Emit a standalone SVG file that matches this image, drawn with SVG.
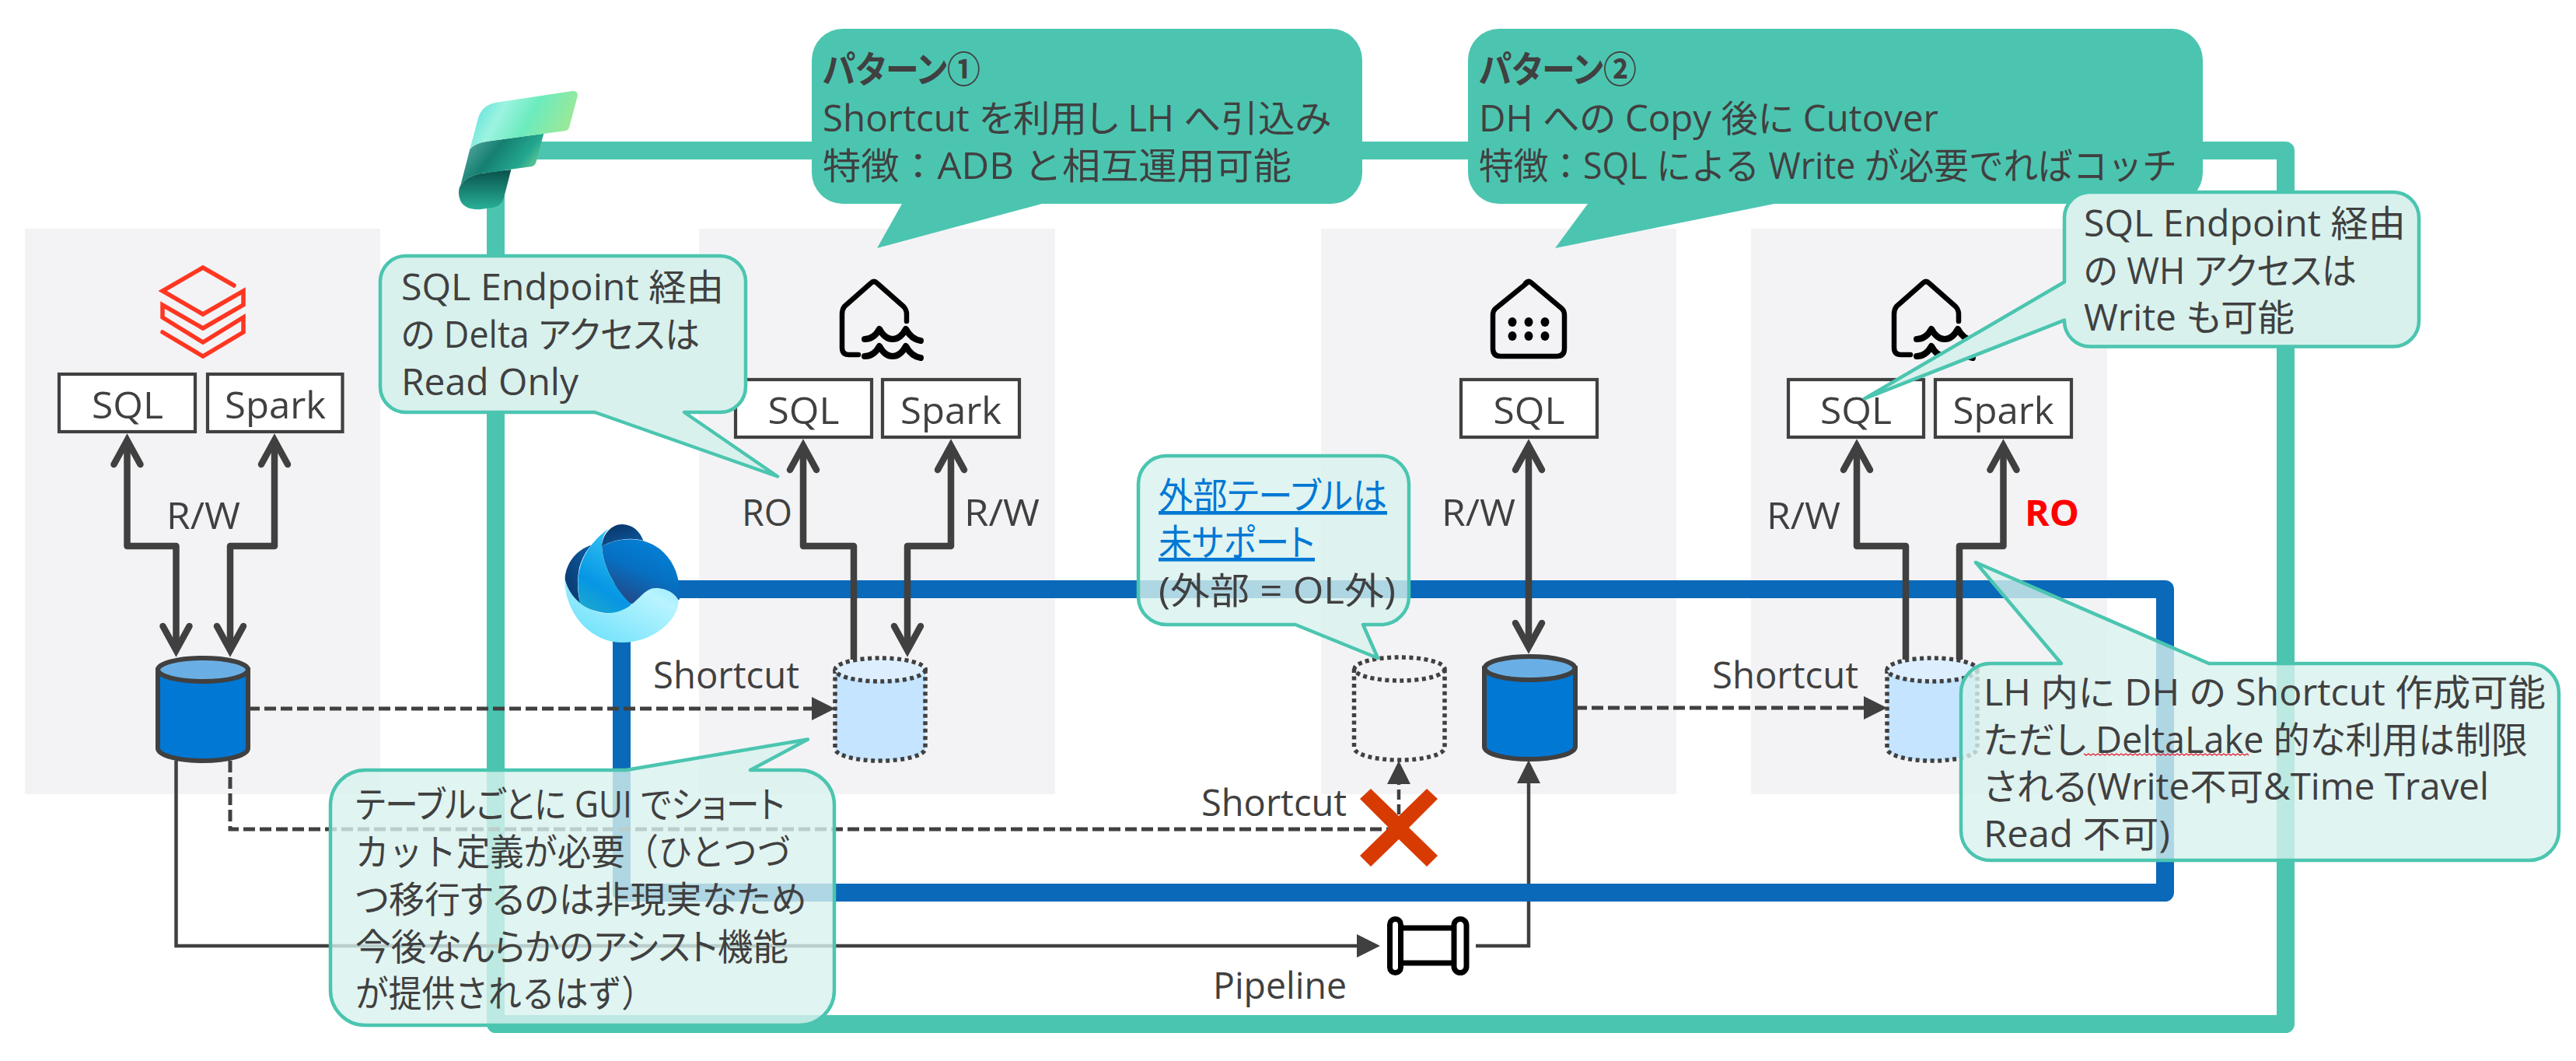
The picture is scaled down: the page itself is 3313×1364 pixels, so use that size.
<svg xmlns="http://www.w3.org/2000/svg" width="3313" height="1364" viewBox="0 0 3313 1364">
<style>
text{font-family:"Open Sans","Noto Sans CJK JP",sans-serif;font-size:47px;fill:#404040;font-feature-settings:"palt";font-weight:400}
.np{font-feature-settings:normal}
.b{font-weight:700}
.panel{fill:#F3F3F5}
.box{fill:#fff;stroke:#404040;stroke-width:4.2}
.thick{fill:none;stroke:#404040;stroke-width:8.5;stroke-linejoin:round}
.dash{fill:none;stroke:#404040;stroke-width:5;stroke-dasharray:15 6}
.thin{fill:none;stroke:#404040;stroke-width:4.5}
.frame{fill:none;stroke-width:23;stroke-linejoin:round}
.cb{fill:#4CC5B0}
.cl{fill:#D8F1ED;stroke:#4BC5B0;stroke-width:4.5;stroke-linejoin:round}
.ct{fill-opacity:.8}
.cyl{stroke:#404040;stroke-width:6}
.dot{stroke-width:5.5;stroke-dasharray:5 4.5}
.icon{fill:none;stroke:#000;stroke-width:6.5;stroke-linecap:round;stroke-linejoin:round}
.lnk{fill:#0078D4;text-decoration:underline}
</style>
<defs>
<marker id="open" markerUnits="userSpaceOnUse" markerWidth="70" markerHeight="70" viewBox="-50 -30 70 60" refX="0" refY="0" orient="auto-start-reverse"><path d="M-31,-17 L0,0 L-31,17" fill="none" stroke="#404040" stroke-width="8.5" stroke-linecap="round" stroke-linejoin="miter" stroke-miterlimit="6"/></marker>
<marker id="tri" markerUnits="userSpaceOnUse" markerWidth="50" markerHeight="50" viewBox="-36 -20 50 40" refX="-8" refY="0" orient="auto"><path d="M-30,-15 L0,0 L-30,15 Z" fill="#404040"/></marker>
<path id="lhicon" d="M1104,456 H1092 Q1083,456 1083,447 V404 Q1083,398 1086,394 L1120,364 Q1124,360 1128,364 L1162,394 Q1166,398 1166,404 V413"/>
<path id="lhwave" d="M1112,436 Q1124,436 1131,423 Q1138,436 1148,436 Q1158,436 1165,423 Q1172,436 1184,438 M1112,458 Q1124,458 1131,445 Q1138,458 1148,458 Q1158,458 1165,445 Q1172,458 1184,460"/>
<linearGradient id="fa" x1="0" y1="0.3" x2="1" y2="0.6"><stop offset="0" stop-color="#5CE0DC"/><stop offset=".28" stop-color="#9CF3E0"/><stop offset=".55" stop-color="#6CEBBE"/><stop offset="1" stop-color="#A4E890"/></linearGradient>
<linearGradient id="fb" x1="0" y1="0.3" x2="1" y2="0.8"><stop offset="0" stop-color="#55A8A0"/><stop offset=".35" stop-color="#167F72"/><stop offset=".68" stop-color="#23A78F"/><stop offset="1" stop-color="#95E59A"/></linearGradient>
<linearGradient id="fc" x1="0" y1="0" x2="0" y2="1"><stop offset="0" stop-color="#09504B"/><stop offset="1" stop-color="#28B198"/></linearGradient>
<linearGradient id="oa" x1="0" y1="1" x2="1" y2="0"><stop offset="0" stop-color="#62DEFA"/><stop offset=".75" stop-color="#B8F4FF"/><stop offset="1" stop-color="#90E8FC"/></linearGradient>
<linearGradient id="ob" x1=".8" y1="0" x2=".3" y2=".9"><stop offset="0" stop-color="#0384DA"/><stop offset=".55" stop-color="#0670C2"/><stop offset="1" stop-color="#1F4E8E"/></linearGradient>
<linearGradient id="oc" x1=".7" y1="0" x2=".3" y2="1"><stop offset="0" stop-color="#38C8F5"/><stop offset=".7" stop-color="#0696E4"/><stop offset="1" stop-color="#1AA5D0"/></linearGradient>
<linearGradient id="od" x1=".2" y1="0" x2=".8" y2="1"><stop offset="0" stop-color="#0A3468"/><stop offset="1" stop-color="#0C5A9F"/></linearGradient>
<linearGradient id="oe" x1="1" y1="0" x2="0" y2="1"><stop offset="0" stop-color="#0C5EA6"/><stop offset="1" stop-color="#0A3468"/></linearGradient>
</defs>
<rect width="3313" height="1364" fill="#fff"/>

<g id="panels">
<rect class="panel" x="32" y="294" width="457" height="727"/>
<rect class="panel" x="899" y="294" width="458" height="727"/>
<rect class="panel" x="1699" y="294" width="457" height="727"/>
<rect class="panel" x="2252" y="294" width="458" height="727"/>
</g>

<g id="connectors-under">
<path class="thin" d="M1898,1216 H1966 V985" marker-end="url(#tri)"/>
</g>

<g id="fabric-frame"><rect class="frame" stroke="#4BC5B0" x="637.5" y="193.5" width="2302" height="1123"/></g>
<g id="onelake-frame"><rect class="frame" stroke="#0A69B8" x="799.5" y="757.5" width="1985" height="390"/></g>

<g id="fabric-logo" transform="translate(560,90) scale(.3333)">
<path fill="url(#fc)" d="M97,445 Q120,410 170,400 L292,384 L265,490 Q255,525 225,530 L170,538 Q90,540 90,470 Q90,455 97,445 Z"/>
<path fill="url(#fb)" d="M133,305 Q150,282 200,275 L418,245 L390,350 Q385,370 372,372 L170,400 Q120,410 97,445 Z"/>
<path fill="url(#fa)" d="M235,125 L530,81 Q552,80 548,102 L516,222 Q512,233 500,235 L200,275 Q150,282 133,305 L165,185 Q180,135 235,125 Z"/>
</g>

<g id="onelake-logo" transform="translate(700,660) scale(.3333)">
<path fill="url(#oe)" d="M182,122 C120,140 80,200 80,255 C90,300 110,335 140,352 C128,310 125,260 135,210 C145,175 160,145 182,122 Z"/>
<path fill="url(#od)" d="M222,127 C225,80 260,42 300,42 C340,42 370,70 382,105 C330,90 270,100 222,127 Z"/>
<path fill="url(#ob)" d="M222,127 C300,85 400,90 460,150 C510,200 525,260 522,332 L335,350 C270,290 225,200 222,127 Z"/>
<path fill="url(#oc)" d="M250,58 C190,100 130,170 130,270 C130,300 135,330 140,352 C180,375 220,385 250,385 C285,385 315,370 335,350 C270,290 225,200 222,127 C222,100 232,75 250,58 Z"/>
<path fill="url(#oa)" d="M78,250 C80,400 190,498 300,498 C420,498 520,410 518,335 C500,300 460,288 430,288 C370,288 350,385 240,385 C180,385 100,340 78,250 Z"/>
</g>

<g id="databricks-logo"><path fill="none" stroke="#FF3621" stroke-width="5.5" stroke-linecap="round" stroke-linejoin="miter" d="M301,367 L261,344 L209,374 L261,404 L313,374 V392 L261,422 L209,392 V408 L261,440 L313,408 V427 L261,458 L209,427"/></g>

<g id="connectors">
<path class="dash" d="M319,911 H1066" marker-end="url(#tri)"/>
<path class="dash" d="M296,978 V1066 H1790"/>
<path d="M1799,1066 V986" fill="none" stroke="#404040" stroke-width="4.5" stroke-dasharray="13 6" marker-end="url(#tri)"/>
<path class="thin" d="M226.5,978 V1216 H1767" marker-end="url(#tri)"/>
<path class="dash" d="M2026,910 H2419" marker-end="url(#tri)"/>
<path class="thick" d="M163.5,566 V702 H226.5 V836" marker-start="url(#open)" marker-end="url(#open)"/>
<path class="thick" d="M353,566 V702 H296 V836" marker-start="url(#open)" marker-end="url(#open)"/>
<path class="thick" d="M1033,573 V702 H1098 V848" marker-start="url(#open)"/>
<path class="thick" d="M1223,573 V702 H1167 V836" marker-start="url(#open)" marker-end="url(#open)"/>
<path class="thick" d="M1966,573 V832" marker-start="url(#open)" marker-end="url(#open)"/>
<path class="thick" d="M2388,573 V702 H2451 V848" marker-start="url(#open)"/>
<path class="thick" d="M2576.5,573 V702 H2520 V848" marker-start="url(#open)"/>
</g>

<g id="x-mark"><path fill="#D83B01" d="M1763,1014 L1799,1049 L1835,1014 L1849,1027 L1812,1064 L1849,1100 L1835,1114 L1799,1079 L1763,1114 L1749,1100 L1786,1064 L1749,1027 Z"/></g>

<g id="db-source">
<path class="cyl" fill="#0078D4" d="M203,861 V962 C203,971 229,978 261,978 C293,978 319,971 319,962 V861 Z"/>
<ellipse class="cyl" fill="#69AFE5" cx="261" cy="861" rx="58" ry="15"/>
</g>
<g id="lh1-store">
<path class="cyl dot" fill="#C4E4FF" d="M1074,861 V962 C1074,971 1100,978 1132,978 C1164,978 1190,971 1190,962 V861 Z"/>
<ellipse class="cyl dot" fill="#DDEFFF" cx="1132" cy="861" rx="58" ry="15"/>
</g>
<g id="external-store">
<path class="cyl dot" fill="none" d="M1741.5,860 V961 C1741.5,970 1768,977 1800,977 C1832,977 1858,970 1858,961 V860"/>
<ellipse class="cyl dot" fill="none" cx="1800" cy="860" rx="58" ry="15"/>
</g>
<g id="dh-store">
<path class="cyl" fill="#0078D4" d="M1909,859 V960 C1909,969 1935,976 1967,976 C1999,976 2026,969 2026,960 V859 Z"/>
<ellipse class="cyl" fill="#69AFE5" cx="1967.5" cy="859" rx="58" ry="15"/>
</g>
<g id="lh2-store">
<path class="cyl dot" fill="#C4E4FF" d="M2427,861 V962 C2427,971 2453,978 2485,978 C2517,978 2543,971 2543,962 V861 Z"/>
<ellipse class="cyl dot" fill="#DDEFFF" cx="2485" cy="861" rx="58" ry="15"/>
</g>

<g id="lh1-icon" class="icon"><use href="#lhicon"/><use href="#lhwave" stroke-width="8"/></g>
<g id="wh-icon">
<path class="icon" d="M1966,362 L1923,397 Q1920,400 1920,405 V448 Q1920,458 1930,458 H2002 Q2012,458 2012,448 V405 Q2012,400 2009,397 L1970,364 Q1966,360 1962,364"/>
<g fill="#000"><ellipse cx="1945" cy="414" rx="5.5" ry="6"/><ellipse cx="1966" cy="414" rx="5.5" ry="6"/><ellipse cx="1987" cy="414" rx="5.5" ry="6"/><ellipse cx="1945" cy="432" rx="5.5" ry="6"/><ellipse cx="1966" cy="432" rx="5.5" ry="6"/><ellipse cx="1987" cy="432" rx="5.5" ry="6"/></g>
</g>
<g id="lh2-icon" class="icon" transform="translate(1353,0)"><use href="#lhicon"/><use href="#lhwave" stroke-width="8"/></g>

<g id="db-sql"><rect class="box" x="76" y="481" width="175" height="74"/><text x="118" y="538" textLength="92" lengthAdjust="spacingAndGlyphs">SQL</text></g>
<g id="db-spark"><rect class="box" x="267" y="481" width="173.5" height="74"/><text x="289" y="538" textLength="130" lengthAdjust="spacingAndGlyphs">Spark</text></g>
<g id="lh1-sql"><rect class="box" x="946" y="488" width="175" height="74"/><text x="987.5" y="545" textLength="92" lengthAdjust="spacingAndGlyphs">SQL</text></g>
<g id="lh1-spark"><rect class="box" x="1135" y="488" width="176" height="74"/><text x="1158" y="545" textLength="130" lengthAdjust="spacingAndGlyphs">Spark</text></g>
<g id="dh-sql"><rect class="box" x="1879" y="488" width="175" height="74"/><text x="1920.5" y="545" textLength="92" lengthAdjust="spacingAndGlyphs">SQL</text></g>
<g id="lh2-sql"><rect class="box" x="2300" y="488" width="174" height="74"/><text x="2341" y="545" textLength="92" lengthAdjust="spacingAndGlyphs">SQL</text></g>
<g id="lh2-spark"><rect class="box" x="2489" y="488" width="175" height="74"/><text x="2511.5" y="545" textLength="130" lengthAdjust="spacingAndGlyphs">Spark</text></g>

<g id="labels">
<text x="214" y="680" textLength="95" lengthAdjust="spacingAndGlyphs">R/W</text>
<text x="954" y="676" textLength="65" lengthAdjust="spacingAndGlyphs">RO</text>
<text x="1240" y="676" textLength="97" lengthAdjust="spacingAndGlyphs">R/W</text>
<text x="1854" y="676" textLength="95" lengthAdjust="spacingAndGlyphs">R/W</text>
<text x="2272" y="680" textLength="95" lengthAdjust="spacingAndGlyphs">R/W</text>
<text class="b" x="2604" y="676" textLength="70" lengthAdjust="spacingAndGlyphs" style="fill:#FF0000">RO</text>
<text x="840" y="885" textLength="188" lengthAdjust="spacingAndGlyphs">Shortcut</text>
<text x="1545" y="1049" textLength="187" lengthAdjust="spacingAndGlyphs">Shortcut</text>
<text x="2202" y="885" textLength="188" lengthAdjust="spacingAndGlyphs">Shortcut</text>
<text x="1560" y="1284" textLength="172" lengthAdjust="spacingAndGlyphs">Pipeline</text>
</g>

<g id="pipeline-icon" fill="#fff" stroke="#000" stroke-width="7">
<rect x="1787.5" y="1181.5" width="14" height="69" rx="7"/>
<rect x="1870" y="1181.5" width="16" height="69" rx="8"/>
<path d="M1802,1193 H1870 M1802,1238 H1870" fill="none"/>
</g>

<g id="callout-pattern1">
<path class="cb" d="M1084,37 H1712 A40,40 0 0 1 1752,77 V222 A40,40 0 0 1 1712,262 H1340 L1128,319 L1160,262 H1084 A40,40 0 0 1 1044,222 V77 A40,40 0 0 1 1084,37 Z"/>
<text class="b" x="1058" y="106" textLength="203" lengthAdjust="spacingAndGlyphs">パターン①</text>
<text x="1058" y="169" textLength="654" lengthAdjust="spacingAndGlyphs">Shortcut を利用し LH へ引込み</text>
<text class="np" x="1058" y="230" textLength="603" lengthAdjust="spacingAndGlyphs">特徴：ADB と相互運用可能</text>
</g>
<g id="callout-pattern2">
<path class="cb" d="M1928,37 H2793 A40,40 0 0 1 2833,77 V222 A40,40 0 0 1 2793,262 H2282 L2000,319 L2042,262 H1928 A40,40 0 0 1 1888,222 V77 A40,40 0 0 1 1928,37 Z"/>
<text class="b" x="1902" y="106" textLength="203" lengthAdjust="spacingAndGlyphs">パターン②</text>
<text x="1902" y="169" textLength="591" lengthAdjust="spacingAndGlyphs">DH への Copy 後に Cutover</text>
<text class="np" x="1902" y="230" textLength="898" lengthAdjust="spacingAndGlyphs">特徴：SQL による Write が必要でればコッチ</text>
</g>
<g id="callout-delta">
<path class="cl" d="M522,329 H926 A33,33 0 0 1 959,362 V497 A33,33 0 0 1 926,530 H880 L1000,612.5 L765,530 H522 A33,33 0 0 1 489,497 V362 A33,33 0 0 1 522,329 Z"/>
<text x="516" y="386" textLength="415" lengthAdjust="spacingAndGlyphs">SQL Endpoint 経由</text>
<text x="516" y="447" textLength="384" lengthAdjust="spacingAndGlyphs">の Delta アクセスは</text>
<text x="516" y="508" textLength="228" lengthAdjust="spacingAndGlyphs">Read Only</text>
</g>
<g id="callout-wh">
<path class="cl" d="M2688,247 H3078 A33,33 0 0 1 3111,280 V412.5 A33,33 0 0 1 3078,445.5 H2688 A33,33 0 0 1 2655,412.5 V411.6 L2398,512.5 L2655,362.5 V280 A33,33 0 0 1 2688,247 Z"/>
<text x="2680" y="304" textLength="414" lengthAdjust="spacingAndGlyphs">SQL Endpoint 経由</text>
<text x="2680" y="365" textLength="351" lengthAdjust="spacingAndGlyphs">の WH アクセスは</text>
<text x="2680" y="425" textLength="271" lengthAdjust="spacingAndGlyphs">Write も可能</text>
</g>
<g id="callout-external">
<path class="cl ct" d="M1500,586 H1776 A36,36 0 0 1 1812,622 V767 A36,36 0 0 1 1776,803 H1753 L1772,846 L1666,803 H1500 A36,36 0 0 1 1464,767 V622 A36,36 0 0 1 1500,586 Z"/>
<text class="lnk" x="1490" y="654" textLength="294" lengthAdjust="spacingAndGlyphs">外部テーブルは</text>
<text class="lnk" x="1490" y="714" textLength="201" lengthAdjust="spacingAndGlyphs">未サポート</text>
<text x="1490" y="776" textLength="305" lengthAdjust="spacingAndGlyphs">(外部 = OL外)</text>
</g>
<g id="callout-gui">
<path class="cl ct" d="M470,990 H805 L1039,950.5 L965,990 H1028 A45,45 0 0 1 1073,1035 V1273 A45,45 0 0 1 1028,1318 H470 A45,45 0 0 1 425,1273 V1035 A45,45 0 0 1 470,990 Z"/>
<text x="457" y="1051" textLength="552" lengthAdjust="spacingAndGlyphs">テーブルごとに GUI でショート</text>
<text class="np" x="457" y="1112" textLength="560" lengthAdjust="spacingAndGlyphs">カット定義が必要（ひとつづ</text>
<text x="457" y="1173" textLength="580" lengthAdjust="spacingAndGlyphs">つ移行するのは非現実なため</text>
<text x="457" y="1234" textLength="557" lengthAdjust="spacingAndGlyphs">今後なんらかのアシスト機能</text>
<text class="np" x="457" y="1294" textLength="385" lengthAdjust="spacingAndGlyphs">が提供されるはず）</text>
</g>
<g id="callout-lh-shortcut">
<path class="cl ct" d="M2560,853 H2651 L2541,723 L2841,853 H3253 A38,38 0 0 1 3291,891 V1068 A38,38 0 0 1 3253,1106 H2560 A38,38 0 0 1 2522,1068 V891 A38,38 0 0 1 2560,853 Z"/>
<text x="2551" y="907" textLength="723" lengthAdjust="spacingAndGlyphs">LH 内に DH の Shortcut 作成可能</text>
<text x="2551" y="968" textLength="700" lengthAdjust="spacingAndGlyphs">ただし DeltaLake 的な利用は制限</text>
<text x="2551" y="1028" textLength="650" lengthAdjust="spacingAndGlyphs">される(Write不可&amp;Time Travel</text>
<text x="2551" y="1089" textLength="240" lengthAdjust="spacingAndGlyphs">Read 不可)</text>
<path fill="none" stroke="#E81123" stroke-width="1.2" d="M2680,969 l3,2 l3,-2 l3,2 l3,-2 l3,2 l3,-2 l3,2 l3,-2 l3,2 l3,-2 l3,2 l3,-2 l3,2 l3,-2 l3,2 l3,-2 l3,2 l3,-2 l3,2 l3,-2 l3,2 l3,-2 l3,2 l3,-2 l3,2 l3,-2 l3,2 l3,-2 l3,2 l3,-2 l3,2 l3,-2 l3,2 l3,-2 l3,2 l3,-2 l3,2 l3,-2 l3,2 l3,-2 l3,2 l3,-2 l3,2 l3,-2 l3,2 l3,-2 l3,2 l3,-2 l3,2 l3,-2 l3,2 l3,-2 l3,2 l3,-2 l3,2 l3,-2 l3,2 l3,-2 l3,2 l3,-2 l3,2 l3,-2 l3,2 l3,-2 l3,2 l3,-2 l3,2 l3,-2 l3,2 l3,-2 l2,2"/>
</g>
</svg>
